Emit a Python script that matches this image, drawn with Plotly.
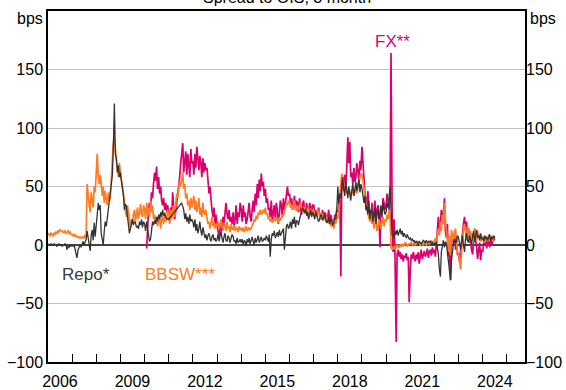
import pandas as pd
import plotly.graph_objects as go

# Semi-monthly observations (1st and 16th of each month), bps, starting Jan 2006
repo_bps = [
    1, 0, 0, 1, 0, 0, 1, 0, 0, -1, 0, 1, 0, 0, -1, 0, 0, 1, 0, -4, -1, -2, 0, -1,          # 2006
    0, -1, 0, -3, -6, -11, -4, -2, 0, -2, 1, 3, 0, 2, 5, 12, 6, 2, -5, 8, 13, 4, 19, 7,     # 2007
    20, 28, 36, 30, 34, 10, 3, 0, 12, 20, 16, 22, 30, 38, 44, 50, 60, 84, 121, 78, 73, 62, 68, 58,  # 2008
    62, 55, 47, 42, 30, 35, 33, 24, 20, 10, 14, 18, 22, 17, 20, 19, 15, 16, 14, 20, 17, 22, 15, 20,  # 2009
    18, 12, 20, 14, 8, 3, 5, 15, 20, 17, 21, 18, 24, 20, 26, 22, 28, 24, 30, 25, 27, 24, 23, 22,  # 2010
    22, 23, None, None, None, None, None, None, None, None, None, None, None, 36,
    33, 30, 22, 27, 20, 24, 18, 26, 20, 22,                                                 # 2011
    20, 15, 22, 12, 18, 10, 14, 20, 12, 8, 15, 10, 6, 9, 4, 8, 10, 6, 3, 7, 9, 4, 6, 3,      # 2012
    5, 9, 3, 8, 12, 6, 2, 7, 10, 4, 3, 8, 6, 2, 5, 9, 7, 3, 4, 1, 6, 2, 3, 5,                # 2013
    2, 5, 0, 4, 3, -1, 5, 2, 6, 1, 4, 7, 3, 0, 6, 2, 5, 8, 2, 4, 7, 3, 4, 6,                 # 2014
    4, 8, 6, 3, 9, -10, 5, 10, 8, 12, 6, 9, 11, 7, 13, 8, 10, 12, 14, -4, 12, 16, 18, 14,    # 2015
    16, 20, 14, 22, 18, 24, 15, 21, 20, 17, 22, 26, 28, 32, 30, 27, 31, 25, 28, 22, 26, 30, 24, 28,  # 2016
    26, 22, 28, 25, 24, 20, 22, 26, 25, 21, 23, 27, 22, 19, 20, 24, 18, 22, 21, 17, 19, 23, 22, 30,  # 2017
    50, 35, 44, 40, 52, 58, 48, 42, 54, 46, 40, 50, 44, 38, 47, 52, 42, 48, 54, 46, 50, 56, 45, 52,  # 2018
    48, 40, 36, 42, 30, 34, 26, 38, 22, 30, 28, 20, 24, 32, 18, 26, 30, 22, 28, 34, 24, 36, 30, 26,  # 2019
    28, 36, 32, 40, 50, 30, 8, 10, 6, 12, 9, 13, 8, 11, 14, 9, 12, 7, 10, 8, 6, 9, 7, 5,     # 2020
    6, 4, 5, 3, 4, 2, 3, 2, 1, 3, 2, 1, 2, 4, 3, 2, 4, 2, 2, 3, 3, 1, 2, 0,                  # 2021
    2, 0, 3, -2, -8, -20, -27, -6, 0, 4, -2, 3, 1, -6, -12, -20, -30, -14, -4, 2, 5, 1, 4, 8,  # 2022
    6, 2, -4, 3, 8, 0, -6, 5, 10, 4, 2, 8, 5, 1, 7, 12, 3, 9, 13, 6, 8, 4, 10, 5,            # 2023
    6, 3, 8, 5, 7, 4, 6, 9, 3, 7, 5, 8, 6,                                                  # 2024
]

bbsw_bps = [
    10, 9, 8, 10, 9, 8, 10, 9, 11, 10, 12, 11, 13, 12, 12, 11, 11, 12, 10, 11, 12, 10, 11, 9,  # 2006
    9, 8, 9, 7, 8, 7, 7, 6, 7, 6, 6, 7, 6, 8, 7, 52, 40, 35, 28, 45, 38, 32, 50, 45,         # 2007
    62, 78, 58, 52, 60, 48, 42, 50, 36, 46, 40, 34, 45, 38, 40, 55, 75, 88, 92, 80, 72, 65, 58, 70,  # 2008
    60, 55, 50, 42, 38, 30, 24, 34, 28, 20, 14, 22, 18, 26, 30, 20, 25, 32, 22, 30, 35, 26, 24, 34,  # 2009
    30, 22, 36, 26, 32, 24, 38, 28, 34, 22, 26, 18, 24, 16, 20, 26, 14, 22, 24, 18, 28, 20, 22, 30,  # 2010
    26, 18, 30, 22, 28, 34, 24, 38, 44, 40, 48, 55, 50, 58, 62, 48, 52, 40, 44, 34, 38, 30, 40, 32,  # 2011
    36, 42, 30, 38, 28, 34, 40, 26, 32, 24, 36, 28, 26, 30, 22, 18, 20, 14, 18, 24, 16, 20, 14, 18,  # 2012
    16, 20, 14, 18, 22, 15, 13, 19, 17, 12, 20, 14, 16, 11, 18, 14, 13, 17, 12, 15, 14, 11, 16, 13,  # 2013
    14, 12, 15, 11, 13, 16, 12, 14, 15, 13, 14, 17, 18, 22, 20, 25, 22, 28, 26, 30, 26, 28, 30, 27,  # 2014
    32, 26, 27, 22, 24, 20, 22, 19, 21, 24, 20, 23, 22, 19, 24, 21, 23, 26, 25, 30, 32, 36, 34, 38,  # 2015
    36, 32, 34, 30, 36, 38, 32, 29, 34, 30, 33, 36, 31, 29, 28, 33, 30, 27, 32, 29, 26, 31, 28, 25,  # 2016
    30, 26, 28, 24, 26, 30, 25, 22, 24, 27, 22, 25, 20, 24, 22, 18, 20, 16, 18, 21, 14, 20, 18, 26,  # 2017
    22, 28, 42, 55, 61, 58, 52, 48, 46, 44, 43, 48, 45, 42, 47, 44, 42, 46, 48, 44, 50, 54, 58, 61,  # 2018
    60, 55, 46, 40, 36, 30, 26, 22, 20, 28, 18, 24, 14, 22, 20, 12, 16, 22, 18, 14, 20, 24, 16, 22,  # 2019
    20, 26, 22, 30, 24, -2, -4, -2, -3, -1, -2, 0, -1, -2, 0, -1, 1, -1, 0, 2, 1, -1, 0, 1,   # 2020
    1, 2, 0, 1, 2, 0, 1, 3, 2, 1, 0, 2, 1, 0, 2, 1, 0, 2, 3, 1, 2, 4, 1, 3,                  # 2021
    3, 6, 2, 10, 14, 8, 20, 12, 26, 18, 36, 22, 12, 4, -6, 8, -9, 13, 6, 2, 10, 14, 4, -6,   # 2022
    -8, -14, -21, -4, 8, 14, 18, 10, 4, 16, 8, 2, 12, 6, 10, 3, 14, 8, 4, 12, 6, 9, 3, 7,    # 2023
    4, 8, 2, 7, 6, 3, 9, 4, 5, 8, 3, 7, 6,                                                  # 2024
]

fx_bps = [None] * 96 + [
    None, None, -3, 18, 30, 36, 32, 45, 40, 52, 62, 55, 67, 48, 58, 44, 50, 38, 34, 40, 30, 36, 28, 34,  # 2010
    26, 20, 32, 24, 45, 30, 22, 28, 36, 42, 48, 58, 70, 80, 87, 62, 74, 80, 60, 78, 68, 58, 82, 70,  # 2011
    72, 60, 78, 66, 84, 70, 64, 76, 70, 58, 74, 62, 70, 64, 66, 56, 44, 50, 36, 30, 24, 32, 18, 26,  # 2012
    16, 10, 7, 14, 20, 12, 24, 18, 30, 36, 26, 22, 30, 20, 24, 18, 28, 16, 22, 34, 18, 28, 24, 36,  # 2013
    30, 20, 34, 24, 28, 18, 22, 32, 36, 24, 20, 30, 38, 28, 44, 34, 52, 40, 56, 46, 61, 50, 54, 42,  # 2014
    48, 36, 40, 30, 32, 24, 38, 20, 28, 34, 22, 36, 30, 18, 26, 38, 34, 24, 40, 30, 36, 44, 50, 42,  # 2015
    44, 36, 40, 30, 34, 42, 30, 38, 36, 28, 40, 32, 26, 34, 38, 30, 28, 36, 32, 26, 36, 30, 28, 34,  # 2016
    34, 28, 30, 24, 26, 32, 28, 22, 24, 30, 22, 28, 26, 20, 24, 30, 20, 26, 22, 16, 18, 26, 24, 30,  # 2017
    28, 34, 40, -27, 50, 56, 46, 60, 52, 64, 92, 70, 88, 58, 62, 52, 66, 54, 58, 70, 62, 56, 72, 64,  # 2018
    84, 66, 56, 44, 40, 34, 46, 28, 30, 22, 36, 18, 26, 38, 20, 30, 34, 24, -2, 32, 28, 40, 36, 30,  # 2019
    34, 44, 38, 30, 44, 164, 28, -6, 22, -12, -83, -8, -4, -10, -6, -12, -8, -14, -9, -11, -7, -13, -10, -49,  # 2020
    -20, -8, -12, -6, -10, -14, -8, -12, -6, -16, -9, -4, -12, -7, -5, -10, -8, -3, -11, -6, -4, -9, -2, -7,  # 2021
    -4, -10, 6, 14, 24, 10, 18, 30, 22, 26, 40, 12, 6, 18, -10, -4, -30, 4, 8, 2, 12, -4, 6, -8,  # 2022
    -8, -14, -2, 6, 10, 18, 24, 12, 20, 8, 14, 2, 6, -4, -8, 2, 14, 4, -2, -12, -6, 2, -13, -4,  # 2023
    -6, 2, 0, 4, -3, 6, 2, -2, 5, 0, 3, 6, 4,                                               # 2024
]

label_years = [2006, 2009, 2012, 2015, 2018, 2021, 2024]
y_ticks = [-100, -50, 0, 50, 100, 150]

REPO_C = "#333333"
BBSW_C = "#ff7b24"
FX_C = "#dc006e"
FONT = "Liberation Sans, Arial, sans-serif"


def semimonthly(values):
    return pd.date_range("2006-01-01", periods=len(values), freq="SMS")


fig = go.Figure()
fig.add_trace(go.Scatter(x=semimonthly(fx_bps), y=fx_bps, mode="lines",
                         line=dict(color=FX_C, width=1.7), connectgaps=False))
fig.add_trace(go.Scatter(x=semimonthly(bbsw_bps), y=bbsw_bps, mode="lines",
                         line=dict(color=BBSW_C, width=1.7)))
fig.add_trace(go.Scatter(x=semimonthly(repo_bps), y=repo_bps, mode="lines",
                         line=dict(color=REPO_C, width=1.3), connectgaps=True))
# invisible trace so the right-hand axis is rendered
fig.add_trace(go.Scatter(x=["2006-01-01"], y=[0], yaxis="y2", mode="markers",
                         marker=dict(opacity=0), hoverinfo="skip"))

fig.update_layout(
    width=566, height=390,
    margin=dict(l=48, r=41, t=11, b=28, autoexpand=False),
    paper_bgcolor="white", plot_bgcolor="white",
    showlegend=False,
    font=dict(family=FONT, size=16, color="black"),
    xaxis=dict(
        range=["2006-01-01", "2025-10-01"],
        automargin=False,
        tickmode="array",
        tickvals=[f"{y}-07-01" for y in label_years],
        ticktext=[str(y) for y in label_years],
        ticks="", showgrid=False, zeroline=False,
        showline=True, linecolor="black", linewidth=1.5, mirror=True,
        minor=dict(tickmode="array",
                   tickvals=[f"{y}-01-01" for y in range(2007, 2026)],
                   ticks="inside", ticklen=8, tickwidth=1.2, tickcolor="black",
                   showgrid=False),
        tickfont=dict(size=16),
        ticklabelstandoff=4,
    ),
    yaxis=dict(
        range=[-100, 200],
        automargin=False,
        tickmode="array", tickvals=y_ticks,
        ticks="", showgrid=True, gridcolor="#c4c4c4", gridwidth=1,
        zeroline=True, zerolinecolor="#444444", zerolinewidth=1.5,
        showline=True, linecolor="black", linewidth=1.5, mirror=True,
        tickfont=dict(size=16),
    ),
    yaxis2=dict(
        range=[-100, 200], overlaying="y", side="right",
        automargin=False,
        tickmode="array", tickvals=y_ticks,
        ticks="", showgrid=False, zeroline=False, showline=False,
        tickfont=dict(size=16),
    ),
)

annotations = [
    dict(text="Spread to OIS, 3 month", xref="paper", yref="paper", x=0.5, y=1,
         xanchor="center", yanchor="bottom", yshift=3, showarrow=False,
         font=dict(size=16)),
    dict(text="bps", xref="paper", yref="paper", x=0, y=0.98,
         xanchor="right", yanchor="middle", xshift=-3, showarrow=False),
    dict(text="bps", xref="paper", yref="paper", x=1, y=0.98,
         xanchor="left", yanchor="middle", xshift=3, showarrow=False),
    dict(text="Repo*", xref="x", yref="y", x="2006-06-25", y=-25,
         xanchor="left", yanchor="middle", showarrow=False,
         font=dict(size=17, color="#3a3a3a")),
    dict(text="BBSW***", xref="x", yref="y", x="2009-12-05", y=-25,
         xanchor="left", yanchor="middle", showarrow=False,
         font=dict(size=17, color=BBSW_C)),
    dict(text="FX**", xref="x", yref="y", x="2020-04-05", y=174,
         xanchor="center", yanchor="middle", showarrow=False,
         font=dict(size=17, color=FX_C)),
]
fig.update_layout(annotations=annotations)

fig.write_html("out.html")
